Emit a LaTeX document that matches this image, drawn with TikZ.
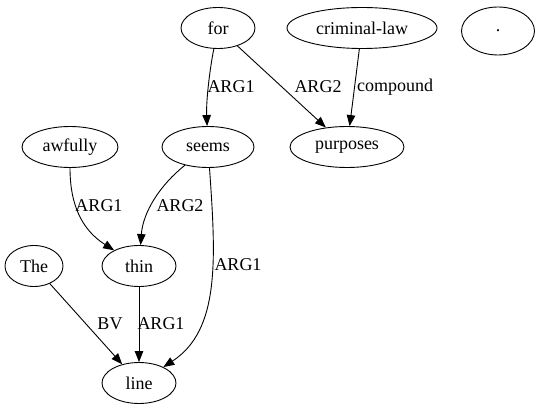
\documentclass[tikz,border=0pt]{standalone}
\usepackage{fontspec}
\setmainfont{Liberation Serif}
\usetikzlibrary{arrows.meta,shapes.geometric}
\tikzset{
  word/.style={draw,ellipse,inner sep=0pt,minimum width=#1,minimum height=41pt,font=\fontsize{18}{21}\selectfont},
  word/.default=74pt,
  rel/.style={font=\fontsize{18}{21}\selectfont,inner sep=0pt},
  arc/.style={-{Triangle[length=11pt,width=8.5pt]},line width=0.9pt}
}
\begin{document}
\begin{tikzpicture}[x=1pt,y=-1pt,line width=0.9pt]
      \useasboundingbox (0,0) rectangle (540,411);
      \draw
        (218,28) node[word] (for){for}
        (362,28) node[word=150pt] (crimlaw){criminal-law}
        (498,31) node[word=73pt,minimum height=48pt] (dot){.}
        (70,147) node[word=96pt] (awfully){awfully}
        (208,147) node[word=92pt] (seems){seems}
        (347,147) node[word=114pt] (purposes){purposes}
        (34,266) node[word=58pt] (the){The}
        (139,266) node[word] (thin){thin}
        (139,383) node[word] (line){line};
      \draw
        (231,87) node[rel] (l1){ARG1}
        (318,87) node[rel] (l2){ARG2}
        (395,87) node[rel] (l3){compound}
        (99,206) node[rel] (l4){ARG1}
        (180,206) node[rel] (l5){ARG2}
        (238,265) node[rel] (l6){ARG1}
        (110,324) node[rel] (l7){BV}
        (161,324) node[rel] (l8){ARG1};
      \begin{scope}[arc]
        \draw (for) .. controls (210,68) and (206,100) .. (seems);
        \draw (for) to (purposes);
        \draw (crimlaw) to (purposes);
        \draw (awfully) .. controls (70,205) and (82,230) .. (thin);
        \draw (seems) .. controls (160,185) and (143,212) .. (thin);
        \draw (seems) .. controls (216,260) and (220,330) .. (line);
        \draw (the) to (line);
        \draw (thin) to (line);
      \end{scope}
    \end{tikzpicture}
\end{document}
